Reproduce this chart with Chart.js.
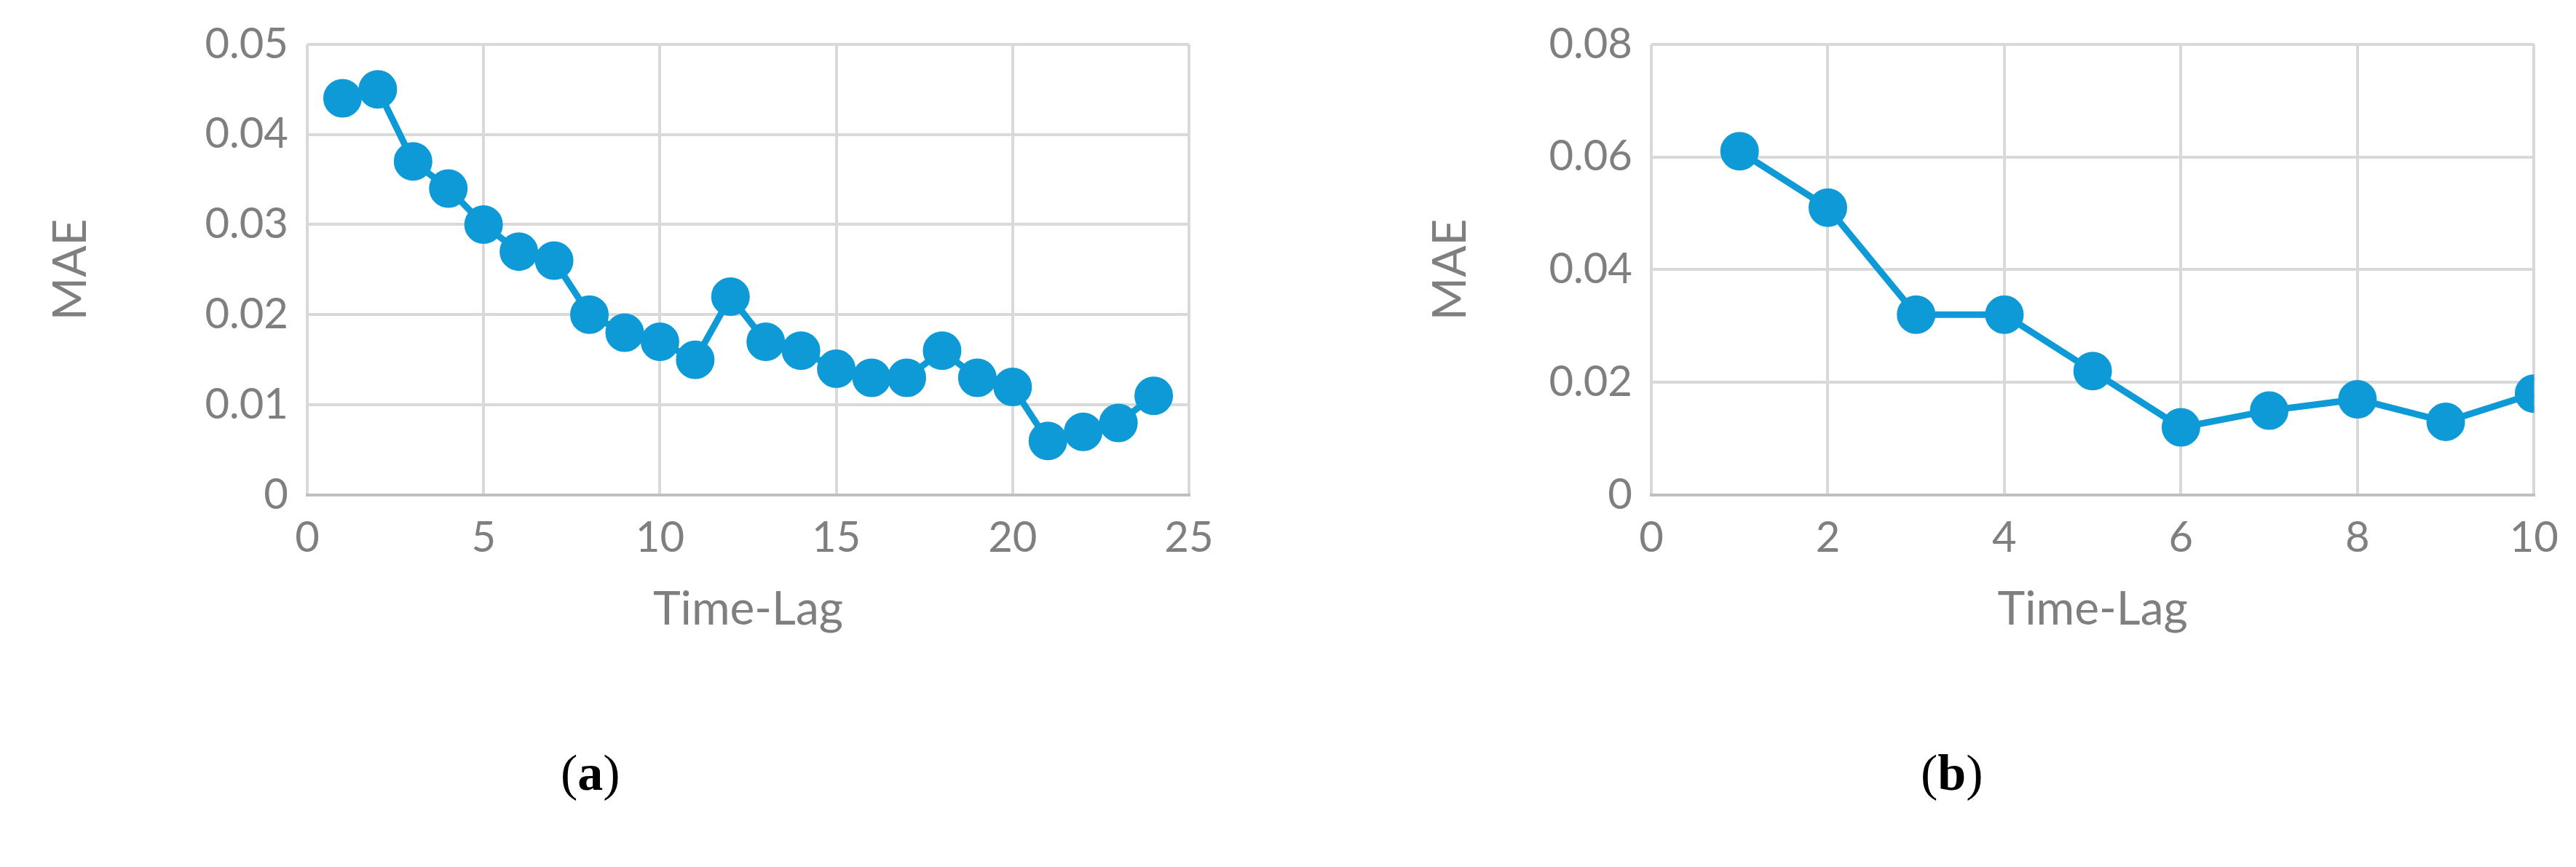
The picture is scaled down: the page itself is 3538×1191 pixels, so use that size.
<!DOCTYPE html><html><head><meta charset="utf-8">
<script src="https://cdn.jsdelivr.net/npm/chart.js@4"></script>
<style>body{margin:0;background:#fff;width:3538px;height:1191px;position:relative;overflow:hidden}
canvas{position:absolute}
.cap{position:absolute;font-family:"Liberation Serif";font-size:70px;color:#000;top:1022px}
</style></head><body>
<div style="position:absolute;left:0;top:0;width:1700px;height:880px"><canvas id="c1"></canvas></div>
<div style="position:absolute;left:1900px;top:0;width:1638px;height:880px"><canvas id="c2"></canvas></div>
<div class="cap" style="left:770px">(<b>a</b>)</div>
<div class="cap" style="left:2638px">(<b>b</b>)</div>
<script>
const lagsA=[1,2,3,4,5,6,7,8,9,10,11,12,13,14,15,16,17,18,19,20,21,22,23,24];
const maeA=[0.044,0.045,0.037,0.034,0.030,0.027,0.026,0.020,0.018,0.017,0.015,0.022,0.017,0.016,0.014,0.013,0.013,0.016,0.013,0.012,0.006,0.007,0.008,0.011];
const lagsB=[1,2,3,4,5,6,7,8,9,10];
const maeB=[0.061,0.051,0.032,0.032,0.022,0.012,0.015,0.017,0.013,0.018];
const xTitle="Time-Lag", yTitle="MAE";
const gray="#7f7f7f", blue="#0e9ad6";
function mk(id,xs,ys,xmax,xstep,ymax,ystep,lp,yw,pad){
 new Chart(document.getElementById(id),{type:'scatter',
 data:{datasets:[{data:xs.map((x,i)=>({x:x,y:ys[i]})),showLine:true,borderColor:blue,backgroundColor:blue,borderWidth:9,pointRadius:22,pointHoverRadius:22}]},
 options:{responsive:true,maintainAspectRatio:false,animation:false,events:[],
  layout:{padding:{top:23,right:pad,left:lp,bottom:0}},
  plugins:{legend:{display:false},tooltip:{enabled:false}},
  scales:{
   x:{type:'linear',min:0,max:xmax,ticks:{stepSize:xstep,color:gray,font:{family:'Lato',size:58},padding:24},
      grid:{color:'#d9d9d9',lineWidth:4,drawTicks:false},border:{color:'#bfbfbf',width:4},
      title:{display:true,text:xTitle,color:gray,font:{family:'Lato',size:64},padding:{top:40}},
      afterFit(a){a.height=200}},
   y:{min:0,max:ymax,ticks:{stepSize:ystep,color:gray,font:{family:'Lato',size:58},padding:26,callback:v=>v===0?'0':v.toFixed(2)},
      grid:{color:'#d9d9d9',lineWidth:4,drawTicks:false},border:{display:false},
      title:{display:true,text:yTitle,color:gray,font:{family:'Lato',size:64},padding:{bottom:40}},
      afterFit(a){a.width=yw}}}}});
}
mk('c1',lagsA,maeA,25,5,0.05,0.01,55,367,67);
mk('c2',lagsB,maeB,10,2,0.08,0.02,50,318,50);
</script></body></html>
